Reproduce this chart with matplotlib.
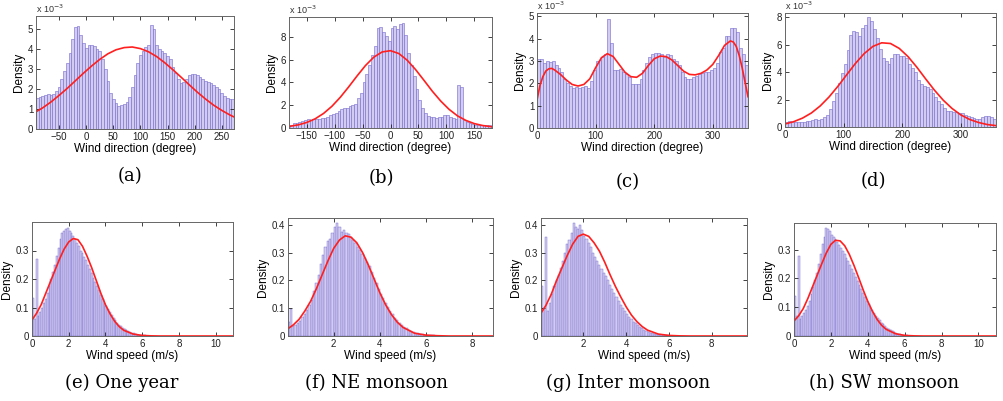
import numpy as np
import matplotlib
matplotlib.use("Agg")
import matplotlib.pyplot as plt

plt.rcParams['font.family'] = ['Liberation Sans', 'DejaVu Sans']

# ---- wind direction histograms (density x 1e-3), 5 degree bins ----
a_deg = np.arange(-90, 275, 5)
a_hist = [1.55, 1.6, 1.65, 1.7, 1.75, 1.72, 1.75, 1.9, 2.1, 2.5, 2.9, 3.3, 3.8, 4.5, 5.1, 5.15,
          4.7, 4.3, 4.05, 4.2, 4.2, 4.15, 4.0, 3.9, 3.5, 3.0, 2.4, 1.8, 1.5, 1.3, 1.15, 1.2,
          1.25, 1.35, 1.6, 2.1, 2.7, 3.3, 3.7, 3.9, 4.1, 4.2, 5.2, 5.0, 4.2, 4.0, 3.9, 3.8,
          3.65, 3.5, 3.1, 2.8, 2.5, 2.3, 2.35, 2.5, 2.7, 2.75, 2.75, 2.7, 2.6, 2.5, 2.4, 2.35,
          2.3, 2.2, 2.1, 2.0, 1.8, 1.65, 1.55, 1.5, 1.5]
a_fit_x = [-95, -80, -65, -50, -35, -20, -5, 10, 25, 40, 55, 70, 85, 100, 115, 130, 145, 160,
           175, 190, 205, 220, 235, 250, 265, 272]
a_fit_y = [0.82, 1.06, 1.35, 1.68, 2.03, 2.41, 2.79, 3.15, 3.48, 3.76, 3.96, 4.07, 4.10, 4.02,
           3.86, 3.62, 3.31, 2.96, 2.59, 2.21, 1.84, 1.50, 1.19, 0.93, 0.70, 0.61]

b_deg = np.arange(-177.5, 180, 5)
b_hist = [0.3, 0.4, 0.45, 0.5, 0.6, 0.7, 0.75, 0.7, 0.75, 0.8,
          0.8, 0.85, 0.9, 1.0, 1.1, 1.2, 1.35, 1.5, 1.7, 1.8,
          1.8, 1.9, 2.0, 2.1, 2.6, 3.1, 4.0, 4.7, 5.5, 6.4,
          7.2, 8.8, 8.9, 8.4, 8.1, 7.6, 8.8, 9.0, 8.7, 9.1,
          9.2, 8.2, 6.6, 5.5, 4.6, 3.4, 2.5, 1.8, 1.3, 1.05,
          1.0, 0.95, 0.9, 0.95, 1.0, 1.1, 1.15, 1.0, 0.9, 0.8,
          3.8, 3.6, 0.7, 0.5, 0.4, 0.35, 0.3, 0.3, 0.3, 0.25,
          0.3, 0.25]
b_fit_x = [-183, -165, -150, -135, -120, -105, -90, -75, -60, -45, -30, -15, 0, 15, 30, 45,
           60, 75, 90, 105, 120, 135, 150, 165, 183]
b_fit_y = [0.13, 0.28, 0.49, 0.81, 1.28, 1.91, 2.70, 3.61, 4.57, 5.48, 6.22, 6.68, 6.79, 6.54,
           5.95, 5.13, 4.19, 3.23, 2.37, 1.64, 1.07, 0.67, 0.39, 0.22, 0.10]

c_deg = np.arange(2.5, 360, 5)
c_hist = [3.1, 3.1, 2.9, 3.0, 2.95, 3.0, 2.8, 2.7, 2.5, 2.2,
          2.0, 1.9, 1.8, 1.85, 1.8, 1.85, 1.9, 1.8, 2.1, 2.6,
          3.0, 3.05, 3.2, 3.3, 4.9, 3.8, 2.6, 2.6, 2.65, 2.5,
          2.4, 2.3, 1.95, 1.95, 1.95, 2.2, 2.6, 2.9, 3.2, 3.3,
          3.35, 3.35, 3.3, 3.2, 3.3, 3.25, 3.1, 3.0, 2.8, 2.5,
          2.3, 2.2, 2.2, 2.3, 2.35, 2.4, 2.45, 2.5, 2.5, 2.6,
          2.7, 2.9, 3.4, 3.6, 4.1, 4.1, 4.5, 4.5, 4.3, 3.6,
          3.3, 2.8]
c_fit_x = [0, 5, 10, 15, 20, 25, 30, 40, 50, 60, 70, 80, 90, 100, 110, 120, 130, 140, 150,
           160, 170, 180, 190, 200, 210, 220, 230, 240, 250, 260, 270, 280, 290, 300, 310,
           320, 330, 335, 340, 345, 350, 355, 360]
c_fit_y = [1.25, 1.9, 2.3, 2.55, 2.65, 2.67, 2.6, 2.4, 2.15, 1.95, 1.88, 1.95, 2.2, 2.7,
           3.15, 3.33, 3.2, 2.85, 2.5, 2.3, 2.27, 2.45, 2.8, 3.1, 3.22, 3.2, 3.05, 2.8,
           2.55, 2.4, 2.38, 2.45, 2.6, 2.85, 3.25, 3.7, 3.9, 3.85, 3.65, 3.25, 2.7, 2.05, 1.4]

d_deg = np.arange(2.5, 360, 5)
d_hist = [0.4, 0.45, 0.35, 0.35, 0.35, 0.4, 0.4, 0.45, 0.45, 0.5,
          0.55, 0.5, 0.6, 0.7, 0.9, 1.3, 1.9, 2.5, 3.2, 3.9,
          4.6, 5.6, 6.7, 7.0, 6.9, 6.6, 7.2, 7.4, 8.0, 7.7,
          7.1, 6.5, 5.7, 5.0, 4.8, 4.6, 5.0, 5.3, 5.3, 5.2,
          5.2, 5.0, 4.6, 4.3, 4.0, 3.4, 3.1, 3.0, 2.9, 2.8,
          2.5, 2.2, 1.9, 1.7, 1.4, 1.2, 1.2, 1.1, 1.1, 1.0,
          1.0, 0.9, 0.8, 0.7, 0.65, 0.6, 0.6, 0.75, 0.8, 0.8,
          0.75, 0.6]
d_fit_x = [0, 15, 30, 45, 60, 75, 90, 105, 120, 135, 150, 165, 180, 195, 210, 225, 240, 255,
           270, 285, 300, 315, 330, 345, 360]
d_fit_y = [0.22, 0.39, 0.65, 1.02, 1.53, 2.18, 2.95, 3.79, 4.62, 5.34, 5.87, 6.13, 6.08, 5.72,
           5.12, 4.35, 3.50, 2.68, 1.95, 1.35, 0.88, 0.55, 0.33, 0.18, 0.10]

# ---- wind speed histograms (density), 0.1 m/s bins starting at 0 ----
e_hist = [0.135, 0.06, 0.27, 0.07, 0.085, 0.1, 0.115, 0.13, 0.15, 0.175,
          0.2, 0.225, 0.25, 0.28, 0.31, 0.34, 0.36, 0.37, 0.375, 0.38,
          0.37, 0.36, 0.35, 0.34, 0.325, 0.315, 0.3, 0.29, 0.278, 0.265,
          0.25, 0.235, 0.22, 0.205, 0.19, 0.175, 0.16, 0.145, 0.13, 0.117,
          0.105, 0.094, 0.083, 0.073, 0.064, 0.055, 0.047, 0.04, 0.034, 0.029,
          0.024, 0.02, 0.016, 0.013, 0.011, 0.009, 0.007, 0.005, 0.004, 0.003,
          0.002, 0.002, 0.001]
e_fit_x = [0, 0.25, 0.5, 0.75, 1.0, 1.25, 1.5, 1.75, 2.0, 2.25, 2.5, 2.75, 3.0, 3.25, 3.5,
           3.75, 4.0, 4.25, 4.5, 4.75, 5.0, 5.5, 6.0, 6.5, 7.0, 10.95]
e_fit_y = [0.056, 0.08, 0.11, 0.15, 0.19, 0.23, 0.27, 0.305, 0.33, 0.342, 0.338, 0.315,
           0.28, 0.24, 0.195, 0.15, 0.11, 0.078, 0.052, 0.033, 0.02, 0.007, 0.002, 0.0005, 0, 0]

f_hist = [0.05, 0.096, 0.035, 0.04, 0.045, 0.055, 0.07, 0.08, 0.095, 0.11,
          0.13, 0.16, 0.19, 0.22, 0.26, 0.29, 0.32, 0.34, 0.35, 0.37,
          0.39, 0.405, 0.39, 0.375, 0.38, 0.37, 0.365, 0.355, 0.345, 0.335,
          0.32, 0.31, 0.295, 0.28, 0.265, 0.25, 0.23, 0.21, 0.19, 0.17,
          0.15, 0.135, 0.12, 0.105, 0.09, 0.078, 0.066, 0.056, 0.047, 0.04,
          0.034, 0.028, 0.023, 0.019, 0.015, 0.012, 0.01, 0.008, 0.006, 0.005,
          0.004, 0.003, 0.002, 0.002, 0.001]
f_fit_x = [0, 0.25, 0.5, 0.75, 1.0, 1.25, 1.5, 1.75, 2.0, 2.25, 2.5, 2.75, 3.0, 3.25, 3.5,
           3.75, 4.0, 4.25, 4.5, 4.75, 5.0, 5.5, 6.0, 6.5, 7.0, 8.9]
f_fit_y = [0.025, 0.04, 0.06, 0.09, 0.125, 0.17, 0.22, 0.27, 0.315, 0.345, 0.36, 0.355,
           0.335, 0.3, 0.255, 0.205, 0.155, 0.112, 0.077, 0.05, 0.031, 0.01, 0.003, 0.001, 0, 0]

g_hist = [0.18, 0.10, 0.357, 0.09, 0.12, 0.15, 0.18, 0.2, 0.22, 0.245,
          0.27, 0.3, 0.33, 0.345, 0.37, 0.405, 0.39, 0.385, 0.4, 0.38,
          0.36, 0.35, 0.335, 0.32, 0.3, 0.285, 0.27, 0.255, 0.24, 0.228,
          0.215, 0.2, 0.185, 0.17, 0.155, 0.14, 0.125, 0.11, 0.1, 0.09,
          0.08, 0.07, 0.06, 0.052, 0.045, 0.038, 0.032, 0.027, 0.022, 0.018,
          0.015, 0.012, 0.01, 0.008, 0.006, 0.005, 0.004, 0.003, 0.002, 0.002]
g_fit_x = [0, 0.25, 0.5, 0.75, 1.0, 1.25, 1.5, 1.75, 2.0, 2.25, 2.5, 2.75, 3.0, 3.25, 3.5,
           3.75, 4.0, 4.25, 4.5, 4.75, 5.0, 5.5, 6.0, 6.5, 7.0, 9.65]
g_fit_y = [0.08, 0.11, 0.15, 0.2, 0.245, 0.29, 0.33, 0.358, 0.366, 0.358, 0.335, 0.305,
           0.265, 0.22, 0.178, 0.14, 0.105, 0.075, 0.052, 0.034, 0.021, 0.007, 0.002, 0.0005, 0, 0]

h_hist = [0.14, 0.07, 0.278, 0.06, 0.07, 0.08, 0.09, 0.105, 0.12, 0.145,
          0.17, 0.195, 0.22, 0.25, 0.285, 0.32, 0.345, 0.375, 0.37, 0.365,
          0.35, 0.345, 0.335, 0.325, 0.315, 0.305, 0.295, 0.285, 0.272, 0.26,
          0.245, 0.232, 0.218, 0.204, 0.19, 0.176, 0.162, 0.148, 0.135, 0.122,
          0.11, 0.1, 0.09, 0.08, 0.07, 0.062, 0.054, 0.046, 0.04, 0.034,
          0.029, 0.024, 0.02, 0.016, 0.013, 0.01, 0.008, 0.006, 0.005, 0.004,
          0.003, 0.002, 0.001]
h_fit_x = [0, 0.25, 0.5, 0.75, 1.0, 1.25, 1.5, 1.75, 2.0, 2.25, 2.5, 2.75, 3.0, 3.25, 3.5,
           3.75, 4.0, 4.25, 4.5, 4.75, 5.0, 5.5, 6.0, 6.5, 7.0, 10.95]
h_fit_y = [0.052, 0.07, 0.095, 0.13, 0.17, 0.21, 0.25, 0.288, 0.318, 0.332, 0.33, 0.313,
           0.283, 0.245, 0.203, 0.16, 0.12, 0.086, 0.058, 0.037, 0.023, 0.008, 0.002, 0.0005, 0, 0]

captions = ['(a)', '(b)', '(c)', '(d)',
            '(e) One year', '(f) NE monsoon', '(g) Inter monsoon', '(h) SW monsoon']

BAR_FACE = '#d2cdf0'
BAR_EDGE = '#7266cc'
RED = '#ff1f1f'
W, H = 1004, 401

fig = plt.figure(figsize=(W / 100, H / 100), dpi=100)


def add_ax(l, r, t, b):
    return fig.add_axes([l / W, 1 - b / H, (r - l) / W, (b - t) / H])


def style(ax):
    ax.tick_params(direction='in', top=True, right=True, length=3, width=0.6,
                   labelsize=7, pad=2, colors='#222222')
    for s in ax.spines.values():
        s.set_linewidth(0.7)
        s.set_color('#666666')
    ax.set_ylabel('Density', fontsize=8.5, labelpad=2)


# top row: wind direction
top_axes = [add_ax(36, 234, 16, 129), add_ax(289, 492, 17, 128),
            add_ax(537, 748, 13, 128), add_ax(785, 996, 13, 127)]
dir_data = [(a_deg, a_hist, a_fit_x, a_fit_y, (-92.5, 272.5), 5.65, [-50, 0, 50, 100, 150, 200, 250], [0, 1, 2, 3, 4, 5]),
            (b_deg, b_hist, b_fit_x, b_fit_y, (-182, 182), 9.75, [-150, -100, -50, 0, 50, 100, 150], [0, 2, 4, 6, 8]),
            (c_deg, c_hist, c_fit_x, c_fit_y, (0, 360), 5.15, [0, 100, 200, 300], [0, 1, 2, 3, 4, 5]),
            (d_deg, d_hist, d_fit_x, d_fit_y, (0, 360), 8.3, [0, 100, 200, 300], [0, 2, 4, 6, 8])]

for ax, (xs, hs, fx, fy, xl, ytop, xt, yt) in zip(top_axes, dir_data):
    ax.bar(xs, hs, width=5, color=BAR_FACE, edgecolor=BAR_EDGE, linewidth=0.4)
    ax.plot(fx, fy, color=RED, lw=1.2)
    ax.set_xlim(*xl)
    ax.set_ylim(0, ytop)
    ax.set_xticks(xt)
    ax.set_yticks(yt)
    ax.set_xlabel('Wind direction (degree)', fontsize=8.5, labelpad=1)
    style(ax)
    ax.text(0, 1.01, r'x 10$^{-3}$', transform=ax.transAxes, fontsize=6.5,
            color='#333333', va='bottom', ha='left')

# bottom row: wind speed
bot_axes = [add_ax(32, 233, 222, 336), add_ax(288, 493, 218, 336),
            add_ax(541, 747, 218, 336), add_ax(794, 996, 223, 336)]
spd_data = [(e_hist, e_fit_x, e_fit_y, (0, 10.95), 0.4, [0, 2, 4, 6, 8, 10], [0, 0.1, 0.2, 0.3]),
            (f_hist, f_fit_x, f_fit_y, (0.02, 8.9), 0.424, [2, 4, 6, 8], [0, 0.1, 0.2, 0.3, 0.4]),
            (g_hist, g_fit_x, g_fit_y, (0.02, 9.65), 0.424, [2, 4, 6, 8], [0, 0.1, 0.2, 0.3, 0.4]),
            (h_hist, h_fit_x, h_fit_y, (0, 10.95), 0.392, [0, 2, 4, 6, 8, 10], [0, 0.1, 0.2, 0.3])]

for ax, (hs, fx, fy, xl, ytop, xt, yt) in zip(bot_axes, spd_data):
    centers = 0.05 + 0.1 * np.arange(len(hs))
    ax.bar(centers, hs, width=0.1, color=BAR_FACE, edgecolor=BAR_EDGE, linewidth=0.3)
    ax.plot(fx, fy, color=RED, lw=1.2)
    ax.set_xlim(*xl)
    ax.set_ylim(0, ytop)
    ax.set_xticks(xt)
    ax.set_yticks(yt)
    ax.set_yticklabels(['0' if v == 0 else f'{v:g}' for v in yt])
    ax.set_xlabel('Wind speed (m/s)', fontsize=8.5, labelpad=1)
    style(ax)

# captions
cap_pos = [(130, 176), (381, 178), (628, 182), (873, 181),
           (122, 383), (377, 383), (628, 383), (884, 383)]
for (cx, cy), txt in zip(cap_pos, captions):
    fig.text(cx / W, 1 - cy / H, txt, ha='center', va='center',
             fontsize=13, family='DejaVu Serif')

fig.savefig('out.png', dpi=100)
